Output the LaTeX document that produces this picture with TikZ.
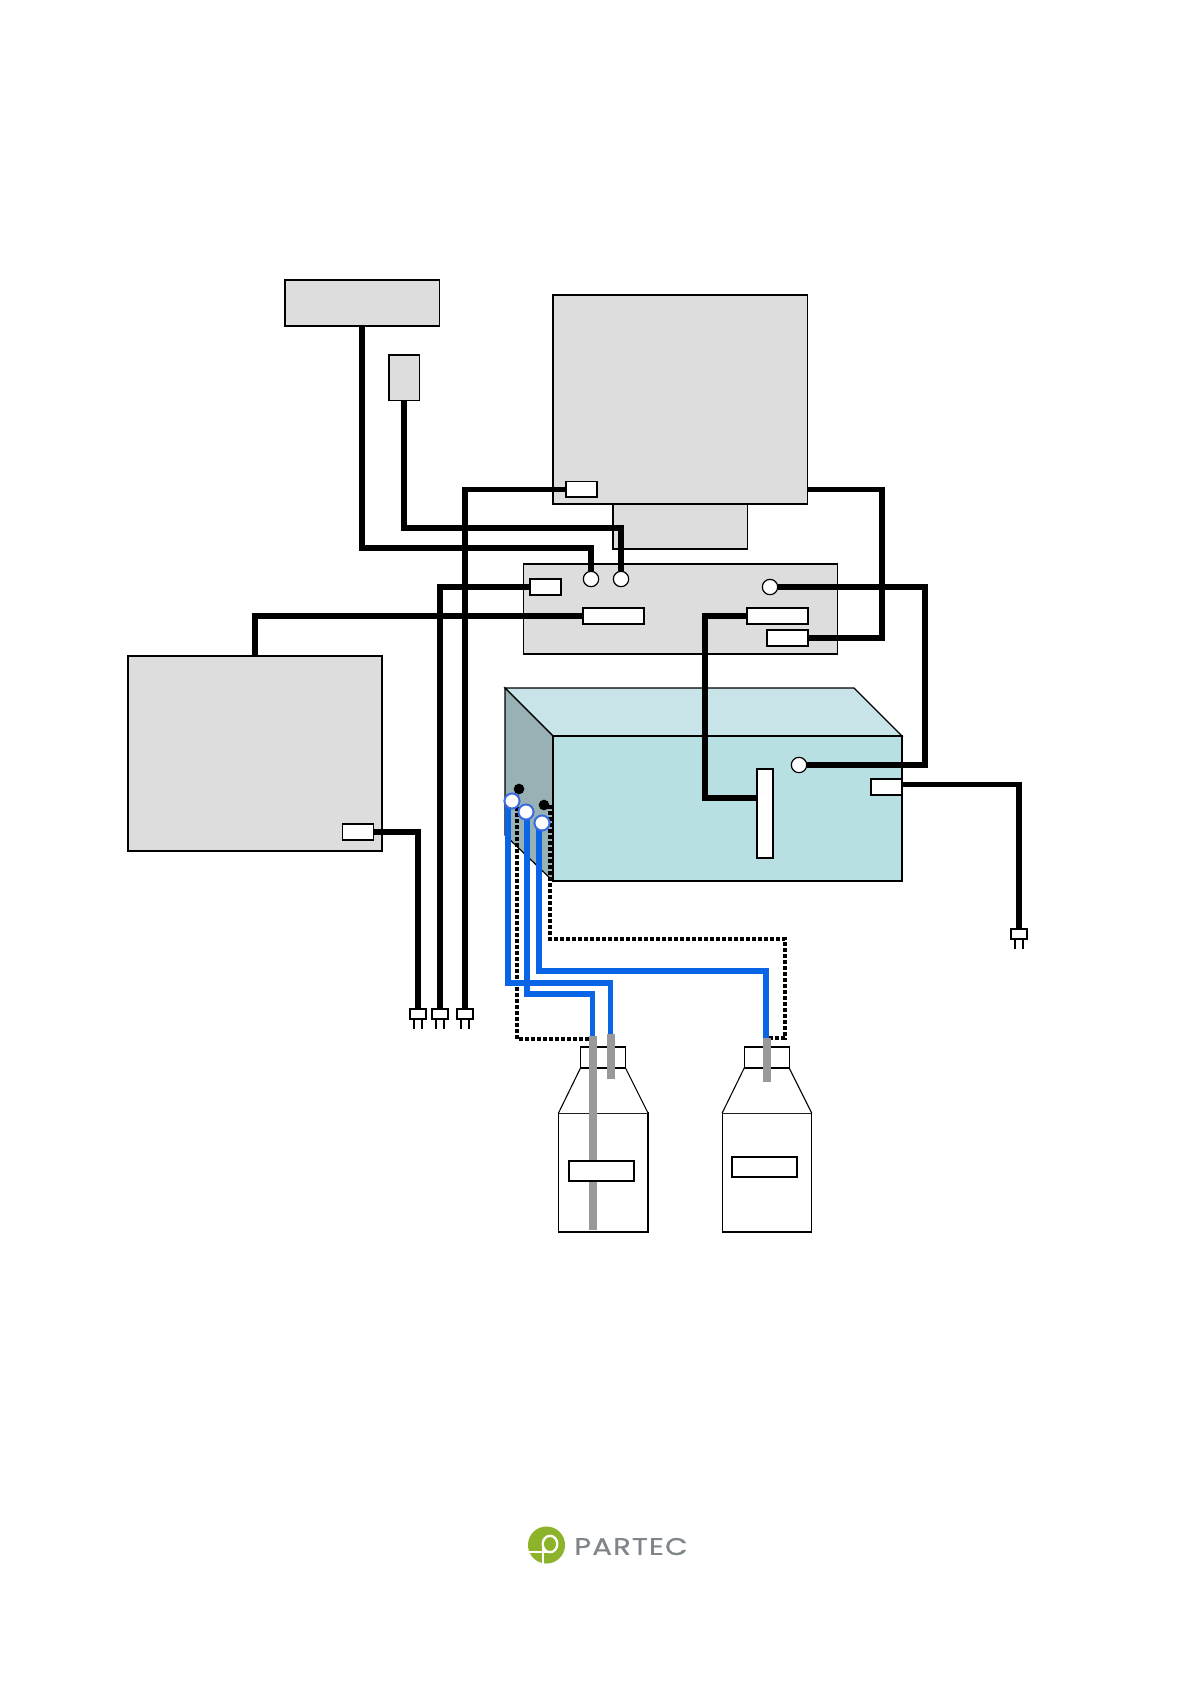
\documentclass[tikz,border=0pt]{standalone}
\usepackage{fontspec}
\setmainfont{Poppins}
\newfontfamily\logofont[FakeStretch=1.22,LetterSpace=4.5,FakeBold=0.6]{Poppins}
\definecolor{boxgrey}{HTML}{DDDDDD}
\definecolor{tealtop}{HTML}{C9E4E8}
\definecolor{tealfront}{HTML}{B8DFE2}
\definecolor{tealside}{HTML}{97B1B4}
\definecolor{tubeblue}{HTML}{0A64E6}
\definecolor{ringblue}{HTML}{3A6BE0}
\definecolor{tubegrey}{HTML}{999999}
\definecolor{logogreen}{HTML}{8DB32B}
\definecolor{logogrey}{HTML}{7F8589}
\newcommand{\bx}[6]{%
  \pgfmathsetmacro{\bxw}{(#5-#3)*0.75}\pgfmathsetmacro{\bxh}{(#6-#4)*0.75}%
  \node[#2,minimum width=\bxw pt,minimum height=\bxh pt] (#1) at ({(#3+#5)/2},{(#4+#6)/2}) {};}
\tikzset{
  pbox/.style={draw=black,line width=0.8pt,inner sep=0pt,outer sep=0pt,rectangle},
  greybox/.style={pbox,fill=boxgrey},
  port/.style={pbox,fill=white},
  jack/.style={circle,draw=black,line width=0.9pt,fill=white,minimum size=11.5pt,inner sep=0pt,outer sep=0pt},
  bluejack/.style={circle,draw=ringblue,line width=1.4pt,fill=white,minimum size=11.2pt,inner sep=0pt,outer sep=0pt},
  blackjack/.style={circle,fill=black,minimum size=8pt,inner sep=0pt,outer sep=0pt},
  wire/.style={line width=4pt,black,line join=miter},
  bluewire/.style={line width=4pt,tubeblue},
  dotwire/.style={line width=2.9pt,black,dash pattern=on 2.7pt off 1.8pt},
  tube/.style={line width=5.5pt,tubegrey},
  bottle/.style={draw=black,line width=0.8pt,fill=white},
  plugbody/.style={pbox,line width=1pt},
  pin/.style={line width=1.6pt,black}
}
\begin{document}
\begin{tikzpicture}[x=0.75pt,y=-0.75pt]
\useasboundingbox[fill=white] (0,0) rectangle (1191,1684);

% grey units
\bx{sub}{greybox}{613}{480}{747.5}{549}
\bx{big}{greybox}{553}{295}{807.5}{504}
\bx{top}{greybox}{285}{280}{439.5}{326}
\bx{small}{greybox}{389}{355}{419.5}{400.5}
\bx{panel}{greybox}{523.5}{564}{837.5}{654}
\bx{left}{greybox}{128}{656}{382}{851}

% teal housing
\fill[tealtop,draw=black,line width=0.9pt] (505,688) -- (854,688) -- (902,736) -- (553,736) -- cycle;
\fill[tealside,draw=black,line width=0.9pt] (505,688) -- (553,736) -- (553,881) -- (505,835) -- cycle;
\bx{front}{pbox,fill=tealfront,line width=0.9pt}{553}{736}{902}{881}

% ports
\bx{pbig}{port}{566}{481.5}{597}{497}
\bx{pa}{port}{530}{579}{561}{595}
\bx{pb}{port}{583}{608}{644}{624}
\bx{pc}{port}{747}{608}{808}{624}
\bx{pd}{port}{767}{630}{808}{646}
\bx{pleft}{port}{342.5}{824}{373.5}{840}
\bx{pfront}{port}{871}{779}{902}{795}
\bx{pslot}{port}{757}{769}{773}{858}
\node[jack] (j1) at (591,579) {};
\node[jack] (j2) at (621,579) {};
\node[jack] (j3) at (770,587) {};
\node[jack] (j4) at (799,765) {};

% mains plugs
\bx{plug1}{plugbody}{410}{1009}{426}{1019}
\bx{plug2}{plugbody}{432}{1009}{448}{1019}
\bx{plug3}{plugbody}{457}{1009}{473}{1019}
\bx{plug4}{plugbody}{1011}{929}{1027}{939}
\foreach \p in {plug1,plug2,plug3,plug4}{
  \draw[pin] ([xshift=-3.3pt]\p.south) -- ++(0,9.5);
  \draw[pin] ([xshift=3.3pt]\p.south) -- ++(0,9.5);
}

% black cables
\coordinate (topout) at (362,326);
\coordinate (smallout) at (404,400.5);
\draw[wire] (topout) |- (591,548) -- (j1.north);
\draw[wire] (smallout) |- (621,528) -- (j2.north);
\draw[wire] (pbig.west) -| (plug3.north);
\draw[wire] (pa.west) -| (plug2.north);
\draw[wire] (pb.west) -| (left.north);
\draw[wire] (pleft.east) -| (plug1.north);
\draw[wire] (pc.west) -| (705,798) -- (pslot.west |- 0,798);
\draw[wire] (807.5,489.5) -| (882,638) -- (pd.east);
\draw[wire] (j3.east) -| (925,765) -- (j4.east);
\draw[wire] (pfront.east |- 0,784.5) -| (plug4.north);

% bottles
\foreach \dx/\name in {0/bottleA,163.7/bottleB}{
  \begin{scope}[shift={(\dx,0)}]
    \draw[bottle] (558.5,1113) rectangle (648,1232);
    \draw[bottle] (558.5,1113) -- (580.5,1068) -- (625.5,1068) -- (648,1113);
    \draw[bottle] (580.5,1047) rectangle (625.5,1068);
  \end{scope}
}

% side sockets and dotted lines
\node[blackjack] (k1) at (519,789) {};
\node[blackjack] (k2) at (544,805) {};
\coordinate (d1) at (592,1039);
\coordinate (d2) at (767,1038);
\draw[dotwire] (517,789) |- (d1);
\draw[dotwire] (550,805) |- (785,938.6) -- (785,1038) -- (d2);

% blue tubes
\node[bluejack] (b1) at (512,801) {};
\node[bluejack] (b2) at (526,812) {};
\node[bluejack] (b3) at (542,823) {};
\coordinate (t1) at (610.5,1034);
\coordinate (t2) at (592.5,1040);
\coordinate (t3) at (766,1038);
\draw[bluewire] (508,801) |- (610.5,983) -- (t1);
\draw[bluewire] (527,812) |- (592.5,994) -- (t2);
\draw[bluewire] (539,823) |- (766,971) -- (t3);
\node[bluejack] at (b1) {};
\node[bluejack] at (b2) {};
\node[bluejack] at (b3) {};

% grey dip tubes and labels
\draw[tube] (593,1036) -- (593,1230);
\draw[tube] (611,1034) -- (611,1079);
\draw[tube] (767,1038) -- (767,1082);
\bx{labelA}{port}{569}{1161}{634}{1181}
\bx{labelB}{port}{732}{1157}{797}{1177}

% logo
\node[circle,fill=logogreen,minimum size=27.8pt,inner sep=0pt] (logo) at (546.5,1545) {};
\draw[white,line width=1.7pt] (542.7,1563.5) -- (542.7,1544);
\draw[white,line width=1.7pt] (550,1544) ellipse[x radius=7.3,y radius=8.2];
\draw[white,line width=1.7pt] (527.5,1552.2) -- (550,1552.2);
\node[anchor=west,text=logogrey,inner sep=0pt,font=\logofont\fontsize{18}{20}\selectfont] (logotext) at (574,1546.5) {PARTEC};
\end{tikzpicture}
\end{document}
